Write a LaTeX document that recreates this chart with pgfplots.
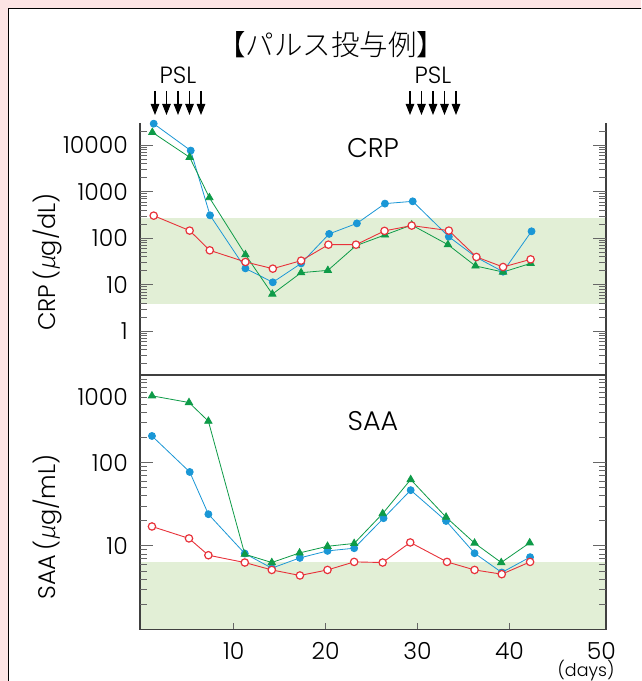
\documentclass[border=0pt]{standalone}
\usepackage{fontspec}
\setmainfont{Poppins}[UprightFont=* Light]
\newfontfamily\jpfont{Noto Sans CJK JP}[UprightFont=* Light]
\newfontfamily\mufont{Noto Sans CJK JP}[UprightFont=* Light, FakeSlant=0.2]
\usepackage{pgfplots}
\pgfplotsset{compat=1.18}
\usetikzlibrary{arrows.meta}
\definecolor{bgpink}{HTML}{FCE4E4}
\definecolor{band}{HTML}{E2EFD6}
\definecolor{cblue}{HTML}{1A97D6}
\definecolor{cgreen}{HTML}{0E9B48}
\definecolor{cred}{HTML}{E8323A}
\newcommand{\tfs}{\fontsize{23.5}{25}\selectfont}
\pgfplotsset{
  myaxisstyle/.style={
    scale only axis, width=466pt, xmin=-0.2, xmax=50.5,
    axis line style={draw=none}, axis on top, clip=false,
    tick align=inside, major tick length=13pt, minor tick length=7pt,
    every tick/.style={black!60, line width=0.9pt},
    yticklabel pos=left,
    yticklabel style={font=\tfs, anchor=east, inner sep=0pt, xshift=-12pt},
    xticklabel style={font=\tfs, anchor=north, inner sep=0pt, yshift=-13pt},
  },
  pblue/.style={cblue, line width=0.8pt, mark=*, mark size=3.5pt, mark options={fill=cblue, draw=cblue, solid}},
  pgreen/.style={cgreen, line width=0.8pt, mark=triangle*, mark size=4.2pt, mark options={fill=cgreen, draw=cgreen, solid}},
  pred/.style={cred, line width=0.9pt, mark=*, mark size=3.7pt, mark options={fill=white, draw=cred, line width=1.2pt, solid}},
}
\begin{document}
\begin{tikzpicture}[x=1pt,y=1pt]
\useasboundingbox (0,0) rectangle (641,681);
\clip (0,0) rectangle (641,681);
\fill[bgpink] (0,0) rectangle (641,681);
\draw[line width=1.3pt, fill=white] (8.5,-20) rectangle (680,672.5);
\node[font=\jpfont\fontsize{28.5}{30}\selectfont] at (331,636) {【パルス投与例】};
\node[font=\tfs] at (178,605.5) {PSL};
\node[font=\tfs] at (433,605.5) {PSL};
\foreach \xa in {155,166.5,178,189.5,201,410,421.5,433,444.5,456}
  \draw[line width=1.1pt, -{Triangle[length=11pt,width=8.5pt]}] (\xa,590) -- (\xa,566);
\node[rotate=90, font=\fontsize{24}{26}\selectfont] at (47,419) {CRP\,({\mufont μ}g/dL)};
\node[rotate=90, font=\fontsize{24}{26}\selectfont] at (47,154) {SAA\,({\mufont μ}g/mL)};
\node[font=\fontsize{17.5}{19}\selectfont, inner sep=0pt] at (586,10.5) {(days)};

% ---------- CRP ----------
\begin{axis}[myaxisstyle, ymode=log, at={(140pt,306pt)}, anchor=south west, height=252pt,
  ymin=0.115, ymax=30000, xtick=\empty,
  ytick={1,10,100,1000,10000}, yticklabels={1,10,100,1000,10000},
  minor ytick={0.2,0.3,0.4,0.5,0.6,0.7,0.8,0.9,2,3,4,5,6,7,8,9,20,30,40,50,60,70,80,90,200,300,400,500,600,700,800,900,2000,3000,4000,5000,6000,7000,8000,9000,20000},
]
\addplot[draw=none, fill=band, forget plot] coordinates {(-0.2,3.9) (50.5,3.9) (50.5,275) (-0.2,275)} -- cycle;
\addplot[pblue] coordinates {(1.29,29000) (5.32,7660) (7.42,311) (11.27,22.5) (14.25,11.3) (17.33,28.8) (20.38,124) (23.4,209) (26.45,555) (29.47,622) (33.4,108) (36.4,38.8) (39.3,19.1) (42.4,141)};
\addplot[pgreen] coordinates {(1.14,18900) (5.2,5500) (7.35,747) (11.27,44.4) (14.2,6.3) (17.33,18.2) (20.24,20.4) (23.3,69.3) (26.45,118) (29.36,193) (33.3,72.8) (36.3,25.4) (39.3,18.8) (42.3,28.8)};
\addplot[pred] coordinates {(1.29,306) (5.2,146) (7.39,55) (11.27,30.9) (14.25,22.2) (17.33,33) (20.3,72.8) (23.3,72.8) (26.4,144) (29.36,187) (33.4,146) (36.4,39.6) (39.3,24.1) (42.3,35.2)};
\draw[black!75, line width=1.2pt] (rel axis cs:0,1) -- (rel axis cs:0,0) -- (rel axis cs:1,0) -- (rel axis cs:1,1);
\node[font=\fontsize{27}{29}\selectfont] at (rel axis cs:0.5,0.9) {CRP};
\end{axis}

% ---------- SAA ----------
\begin{axis}[myaxisstyle, ymode=log, at={(140pt,51.7pt)}, anchor=south west, height=254.3pt,
  ymin=1, ymax=1120,
  xtick={10,20,30,40,50}, xticklabels={10,20,30,40,50}, xtick style={draw=none},
  ytick={10,100}, yticklabels={10,100},
  extra y ticks={1000}, extra y tick labels={1000},
  extra y tick style={major tick length=0pt, yticklabel style={yshift=-17.5pt}},
  minor ytick={2,3,4,5,6,7,8,9,20,30,40,50,60,70,80,90,200,300,400,500,600,700,800,900,1000},
]
\addplot[draw=none, fill=band, forget plot] coordinates {(-0.2,1) (50.5,1) (50.5,6.5) (-0.2,6.5)} -- cycle;
\addplot[pblue] coordinates {(1.10,208) (5.21,77) (7.24,24) (11.2,8.1) (14.14,5.41) (17.19,7.18) (20.2,8.71) (23.1,9.38) (26.3,21.5) (29.25,46.6) (33.1,19.9) (36.2,8.17) (39.16,4.80) (42.24,7.33)};
\addplot[pgreen] coordinates {(1.10,630) (5.13,524) (7.24,313) (11.2,7.95) (14.14,6.32) (17.16,8.24) (20.2,9.9) (23.1,10.7) (26.2,24.4) (29.25,62.5) (33.1,22.1) (36.2,10.8) (39.1,6.32) (42.2,10.9)};
\addplot[pred] coordinates {(1.10,17.1) (5.13,12.3) (7.24,7.73) (11.2,6.32) (14.14,5.15) (17.2,4.42) (20.2,5.15) (23.1,6.43) (26.2,6.32) (29.2,11.0) (33.2,6.43) (36.2,5.15) (39.16,4.58) (42.24,6.43)};
\pgfplotsinvokeforeach{10,20,30,40}{\draw[black!60, line width=0.9pt] (axis cs:#1,1) -- ++(0pt,6pt);}
\draw[black!75, line width=1.2pt] (rel axis cs:0,0) rectangle (rel axis cs:1,1);
\node[font=\fontsize{27}{29}\selectfont] at (rel axis cs:0.5,0.82) {SAA};
\end{axis}
\end{tikzpicture}
\end{document}
